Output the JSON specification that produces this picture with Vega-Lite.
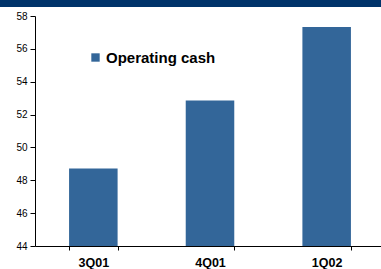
{
  "$schema": "https://vega.github.io/schema/vega-lite/v6.json",
  "padding": 0,
  "spacing": 4,
  "config": {
    "view": {"stroke": null},
    "font": "Liberation Sans"
  },
  "vconcat": [
    {
      "width": 385,
      "height": 7,
      "data": {"values": [{"band": "top"}]},
      "mark": {"type": "rect", "color": "#00336a"},
      "encoding": {}
    },
    {
      "width": 385,
      "height": 230,
      "data": {
        "values": [
          {"quarter": "3Q01", "value": 48.72, "series": "Operating cash"},
          {"quarter": "4Q01", "value": 52.85, "series": "Operating cash"},
          {"quarter": "1Q02", "value": 57.33, "series": "Operating cash"}
        ]
      },
      "mark": {"type": "bar", "clip": true},
      "encoding": {
        "x": {
          "field": "quarter",
          "type": "nominal",
          "sort": ["3Q01", "4Q01", "1Q02"],
          "scale": {"range": [35, 385], "paddingInner": 0.584, "paddingOuter": 0.292},
          "axis": {
            "title": null,
            "labelAngle": 0,
            "labelFont": "Liberation Sans",
            "labelFontSize": 12.5,
            "labelFontWeight": "bold",
            "labelColor": "#000000",
            "labelPadding": 6,
            "domainColor": "#000000",
            "tickColor": "#000000",
            "tickSize": 4,
            "tickBand": "extent"
          }
        },
        "y": {
          "field": "value",
          "type": "quantitative",
          "scale": {"domain": [44, 58], "zero": false, "nice": false},
          "axis": {
            "title": null,
            "values": [44, 46, 48, 50, 52, 54, 56, 58],
            "grid": false,
            "offset": -35,
            "minExtent": 0,
            "labelFont": "Liberation Sans",
            "labelFontSize": 10,
            "labelColor": "#000000",
            "labelPadding": 3,
            "domainColor": "#000000",
            "tickColor": "#000000",
            "tickSize": 5
          }
        },
        "y2": {"datum": 44},
        "color": {
          "field": "series",
          "type": "nominal",
          "scale": {"range": ["#336699"]},
          "legend": {
            "title": null,
            "orient": "none",
            "legendX": 88,
            "legendY": 50,
            "symbolType": "square",
            "symbolSize": 70,
            "labelFont": "Liberation Sans",
            "labelFontSize": 15,
            "labelFontWeight": "bold",
            "labelColor": "#000000",
            "labelOffset": 3
          }
        }
      }
    }
  ]
}
